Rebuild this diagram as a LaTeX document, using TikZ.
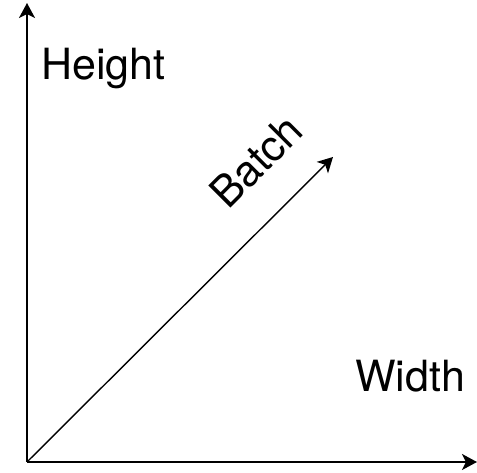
\documentclass[tikz,border=0pt]{standalone}
\usepackage{fontspec}
\setmainfont{TeX Gyre Heros}
\usetikzlibrary{arrows.meta}

\begin{document}
\begin{tikzpicture}[x=1pt, y=1pt, >={Stealth[length=15pt, width=16pt, inset=4pt]},
    axis/.style={line width=1.8pt, ->},
    lbl/.style={inner sep=0pt, font=\fontsize{43}{50}\selectfont}]
    \useasboundingbox (0,0) rectangle (477,473);

    % origin and the three axis tips
    \coordinate (O) at (27,11);
    \coordinate (htip) at (27,470);
    \coordinate (wtip) at (477,11);
    \coordinate (btip) at (333,316);

    \draw[axis] (O) -- (htip);
    \draw[axis] (O) -- (wtip);
    \draw[axis, line width=1.4pt] (O) -- (btip);

    \node[lbl, anchor=base west] (height) at (41,393) {Height};
    \node[lbl, anchor=base west] (width) at (355,81) {Width};
    \node[lbl, anchor=base, rotate=45] (batch) at (267,301) {Batch};
\end{tikzpicture}
\end{document}
